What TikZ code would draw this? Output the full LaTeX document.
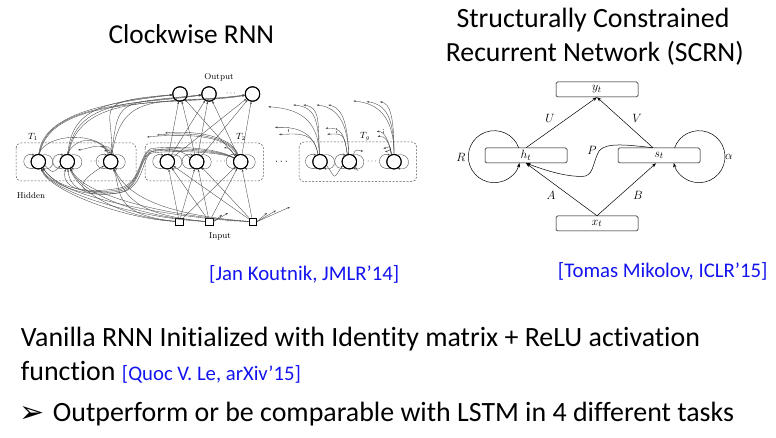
\documentclass[tikz,border=0pt]{standalone}
\usepackage{fontspec}
\setmainfont{Carlito}[Ligatures=NoCommon]
\newfontfamily\lmr{Latin Modern Roman}
\newfontfamily\djv{DejaVu Sans}
\usetikzlibrary{arrows.meta}
\definecolor{citeblue}{RGB}{20,20,240}
\definecolor{wirecol}{RGB}{70,70,70}
\tikzset{
  neuron/.style={circle, draw, line width=0.9pt, minimum size=14.5pt, inner sep=0pt, fill=white},
  inbox/.style={rectangle, draw, line width=0.7pt, minimum size=7.5pt, inner sep=0pt, fill=white},
  grp/.style={draw=black!65, dash pattern=on 2pt off 1.5pt, rounded corners=5pt, line width=0.5pt},
  wire/.style={draw=wirecol, line width=0.35pt, -{Stealth[length=2.6pt,width=1.9pt]}},
  dotmark/.style={draw=black!50, line width=0.4pt, dash pattern=on 0.6pt off 0.8pt},
  smalllab/.style={font=\lmr\fontsize{8.5}{10}\selectfont, inner sep=0pt},
  tlab/.style={font=\fontsize{9}{10}\selectfont, inner sep=0pt},
  dotsnode/.style={font=\fontsize{8}{9}\selectfont, inner sep=0pt},
  sbox/.style={draw, rounded corners=1.5pt, minimum width=82pt, minimum height=15pt, inner sep=0pt, line width=0.5pt, fill=white, font=\fontsize{12.5}{14}\selectfont},
  sarrow/.style={draw, line width=0.5pt, -{Stealth[length=4.5pt,width=3.2pt]}},
  slab/.style={font=\fontsize{13}{15}\selectfont, inner sep=0pt},
  title/.style={font=\fontsize{27.3}{32}\selectfont, inner sep=0pt, anchor=base},
  body/.style={font=\fontsize{27.9}{32}\selectfont, inner sep=0pt, anchor=base west},
  cite/.style={font=\fontsize{20.8}{24}\selectfont, text=citeblue, inner sep=0pt, anchor=base west},
}
\begin{document}
\begin{tikzpicture}[x=1pt,y=-1pt]
\useasboundingbox (0,0) rectangle (776,438);
\fill[white] (0,0) rectangle (776,438);

% ---------- titles and text ----------
\node[title] (title1) at (191.3,43.3) {Clockwise RNN};
\node[title, font=\fontsize{27.9}{32}\selectfont] (title2) at (593,27.3) {Structurally Constrained};
\node[title, font=\fontsize{27.7}{32}\selectfont] (title3) at (594.8,61.7) {Recurrent Network (SCRN)};
\node[cite] (cite1) at (209,280.5) {[Jan Koutnik, JMLR’14]};
\node[cite] (cite2) at (557.7,277) {[Tomas Mikolov, ICLR’15]};
\node[body] (line1) at (20.7,346.7) {Vanilla RNN Initialized with Identity matrix + ReLU activation};
\node[body] (line2) at (20.7,380) {function {\color{citeblue}\fontsize{20.7}{24}\selectfont[Quoc V. Le, arXiv’15]}};
\node[body, font=\djv\fontsize{30}{32}\selectfont] (bullet) at (19.5,422) {➢};
\node[body] (line3) at (52.7,421.7) {Outperform or be comparable with LSTM in 4 different tasks};

% ---------- Clockwise RNN ----------
\draw[grp] (16,143) rectangle (136,181);
\draw[grp] (145,143) rectangle (263.3,181);
\draw[grp] (299,142) rectangle (416.7,181.7);
\node[tlab] (T1) at (33,137) {$T_1$};
\node[tlab] (T2) at (241,137) {$T_2$};
\node[tlab] (Tg) at (365,137) {$T_g$};
\node[smalllab] (outlab) at (219,77) {Output};
\node[smalllab] (hidlab) at (31,195.5) {Hidden};
\node[smalllab] (inlab) at (220,236) {Input};

\node[neuron] (o1) at (180,94) {};
\node[neuron] (o2) at (209,94) {};
\node[neuron] (o3) at (252.5,94) {};
\node[neuron] (a1) at (38.3,161.7) {};
\node[neuron] (a2) at (67.3,161.7) {};
\node[neuron] (a3) at (110.7,161.7) {};
\node[neuron] (b1) at (167.3,161.7) {};
\node[neuron] (b2) at (196.7,161.7) {};
\node[neuron] (b3) at (240.7,161.7) {};
\node[neuron] (g1) at (320,161.7) {};
\node[neuron] (g2) at (349.3,161.7) {};
\node[neuron] (g3) at (394,161.7) {};
\node[inbox] (i1) at (179.3,221.7) {};
\node[inbox] (i2) at (209.3,221.7) {};
\node[inbox] (i3) at (252.7,221.7) {};

\node[dotsnode] (d1) at (231,94) {$\cdots$};
\node[dotsnode] (d2) at (231,221.7) {$\cdots$};
\node[dotsnode] (d3) at (95,161.7) {$\cdots$};
\node[dotsnode] (d4) at (221,161.7) {$\cdots$};
\node[dotsnode] (d5) at (372,161.7) {$\cdots$};
\node[dotsnode, font=\fontsize{11}{12}\selectfont] (d6) at (281.5,161.7) {$\cdots$};

% T2 -> outputs, inputs -> T2
\foreach \b in {b1,b2,b3}{
  \foreach \o in {o1,o2,o3}{ \draw[wire] (\b) -- (\o); }
  \foreach \i in {i1,i2,i3}{ \draw[wire] (\i) -- (\b); }
}
% T1 -> outputs (arcs over the top)
\foreach \a/\k in {a1/1,a2/2,a3/3}{
  \foreach \o/\j in {o1/1,o2/2,o3/3}{
    \draw[wire] (\a) .. controls +({4*\j},{-38-10*\j-2*\k}) and +({-50-14*\k},{6+2*\j}) .. (\o);
  }
}
% inputs -> T1 (arcs under the bottom)
\foreach \a/\k in {a1/1,a2/2,a3/3}{
  \foreach \i/\j in {i1/1,i2/2,i3/3}{
    \draw[wire] (\i) .. controls +({-40-10*\j-6*\k},{-1-2*\k}) and +({8+3*\j},{26+3*\j}) .. (\a);
  }
}
% self loops
\foreach \n in {a1,a2,a3,b1,b2,b3,g1,g2,g3}{
  \draw[wire] (\n.60) .. controls +(14,-3) and +(14,3) .. (\n.-60);
  \draw[wire] (\n.-120) .. controls +(-14,3) and +(-14,-3) .. (\n.120);
}
% intra-module
\draw[wire] (a1.north) .. controls +(10,-22) and +(-12,-22) .. (a3.north);
\draw[wire] (a3.100) .. controls +(-10,-18) and +(10,-18) .. (a2.north);
\draw[wire] (a1.-30) .. controls +(8,8) and +(-8,8) .. (a2.-150);
\draw[wire] (g1.-30) .. controls +(10,14) and +(-10,14) .. (g2.-150);
\draw[wire] (g2.-40) .. controls +(6,8) and +(-3,6) .. (g2.-10);
% slow -> fast bundle (T2 -> T1)
\foreach \t/\k in {a1/0,a2/1.5,a3/3,a1/4.5}{
  \draw[wire] (b3.150) .. controls (215,{146+\k}) and (162,{146+\k}) .. (150,{149+\k})
     .. controls (139,{155+\k}) and (141,{183+\k}) .. (120,{188+\k})
     .. controls (95,{193+\k}) and (60,{192}) .. (\t);
}
\draw[wire] (b2.150) .. controls (180,147) and (160,148) .. (151,152)
     .. controls (142,160) and (143,186) .. (123,192)
     .. controls (100,197) and (70,195) .. (a2);
% truncated arrows (T1, T2)
\coordinate (e1) at (147,137);
\coordinate (e2) at (157,135);
\coordinate (e3) at (165,133);
\coordinate (e4) at (224,148);
\coordinate (e5) at (78,150);
\coordinate (e6) at (101,147);
\coordinate (e7) at (104,151);
\draw[wire] (b3.120) .. controls +(-10,-22) and +(30,-3) .. (e1);
\draw[wire] (b3.115) .. controls +(-8,-20) and +(30,-3) .. (e2);
\draw[wire] (b3.110) .. controls +(-6,-18) and +(30,-3) .. (e3);
\draw[wire] (b3.135) .. controls +(-4,-6) and +(6,-1) .. (e4);
\draw[wire] (a3.110) .. controls +(-4,-14) and +(14,-2) .. (e5);
\draw[wire] (a3.80) .. controls +(0,-8) and +(5,-1) .. (e6);
\draw[wire] (a3.70) .. controls +(0,-6) and +(5,-1) .. (e7);
% truncated arrows from inputs
\coordinate (r1) at (267,213);
\coordinate (r2) at (276,210.5);
\coordinate (r3) at (290,207);
\draw[wire] (i3.east) -- (r1);
\draw[wire] (i3.east) -- (r2);
\draw[wire] (i3.east) -- (r3);
\coordinate (r4) at (222,215);
\coordinate (r5) at (228,213);
\draw[wire] (i2.east) -- (r4);
\draw[wire] (i2.east) -- (r5);
% truncated arrows, T_g module
\foreach \e/\x/\y/\cx in {ga/268.3/106.7/30, gb/293.3/105/22, gc/303.3/105/16}{
  \coordinate (\e) at (\x,\y);
  \draw[wire] (g1.95) .. controls +(-1,-35) and +(\cx,2) .. (\e);
}
\foreach \e/\x/\y in {gd/275/127.5, ge/279/134.5}{
  \coordinate (\e) at (\x,\y);
  \draw[wire] (g1.105) .. controls +(-4,-22) and +(22,-1) .. (\e);
}
\foreach \e/\x/\y/\cx in {gf/316.7/105/18, gg/328.3/105/12}{
  \coordinate (\e) at (\x,\y);
  \draw[wire] (g2.95) .. controls +(-1,-35) and +(\cx,2) .. (\e);
}
\foreach \e/\x/\y in {gh/325.5/128.3, gi/327.3/134.3}{
  \coordinate (\e) at (\x,\y);
  \draw[wire] (g2.105) .. controls +(-3,-20) and +(16,-1) .. (\e);
}
\foreach \e/\x/\y/\cx in {gj/353.3/101/24, gk/366.7/101.7/18, gl/380/101.7/10}{
  \coordinate (\e) at (\x,\y);
  \draw[wire] (g3.90) .. controls +(0,-38) and +(\cx,2) .. (\e);
}
\foreach \e/\x/\y in {gm/376.7/131.7, gn/377.5/136.5, go/383.3/148.3, gp/385/151.7}{
  \coordinate (\e) at (\x,\y);
  \draw[wire] (g3.110) .. controls +(-2,-12) and +(8,-1) .. (\e);
}
\coordinate (gq) at (363.3,151);
\draw[wire] (g2.60) .. controls +(3,-8) and +(-6,0) .. (gq);
\draw[dotmark] (288.3,127.3) -- (288.3,132);
\draw[dotmark] (335.7,128) -- (335.7,133);
\draw[dotmark] (383.3,129.3) -- (383.3,134.3);
% redraw neuron outlines on top
\foreach \n in {o1,o2,o3,a1,a2,a3,b1,b2,b3,g1,g2,g3}{
  \draw[line width=0.9pt] (\n.center) circle[radius=7.25pt];
}

% ---------- SCRN ----------
\node[sbox] (yt) at (597,89.5) {$y_t$};
\node[sbox] (ht) at (526,155.5) {$h_t$};
\node[sbox] (st) at (659,155.5) {$s_t$};
\node[sbox] (xt) at (597,223.5) {$x_t$};
\draw[sarrow] (ht.north) -- (yt.south);
\draw[sarrow] ([xshift=-6pt]st.north) -- (yt.south);
\draw[sarrow] (xt.north) -- (ht.south);
\draw[sarrow] (xt.north) -- ([xshift=-3pt]st.south);
\draw[sarrow] (518.8,148) arc[start angle=-19.5, end angle=-346, radius=26];
\draw[sarrow] (674.5,148) arc[start angle=-160.5, end angle=166, radius=26];
\draw[sarrow] ([xshift=-6pt]st.north) .. controls (628,145) and (606,142) .. (599,151)
   .. controls (592,164) and (594,177) .. (581,176.5)
   .. controls (562,176) and (545,170) .. (ht.south);
\node[slab] (lU) at (550,118) {$U$};
\node[slab] (lV) at (637,118) {$V$};
\node[slab] (lA) at (551,195) {$A$};
\node[slab] (lB) at (638,195) {$B$};
\node[slab] (lP) at (592,150) {$P$};
\node[slab] (lR) at (461,157) {$R$};
\node[slab] (la) at (729,157) {$\alpha$};
\end{tikzpicture}
\end{document}
